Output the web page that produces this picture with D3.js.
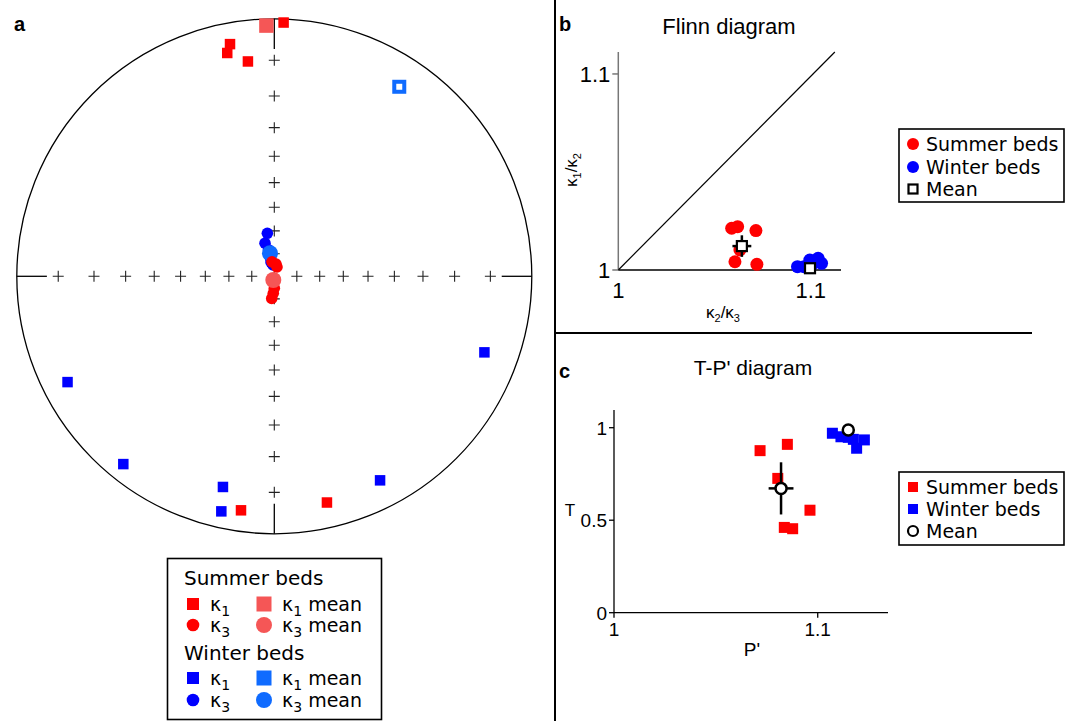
<!DOCTYPE html>
<html>
<head>
<meta charset="utf-8">
<script src="https://cdn.jsdelivr.net/npm/d3@7"></script>
<style>
  body { margin: 0; background: #fff; }
  svg { display: block; }
  .dv { font-family: "DejaVu Sans", sans-serif; }
  .ar { font-family: "Liberation Sans", Arial, sans-serif; }
</style>
</head>
<body>
<svg id="fig"></svg>
<script>
// ---- panel a: stereonet, [trend, plunge] in degrees ----
var summerK1 = [[349.2, 4.9], [348.1, 6.9], [353.0, 9.9], [2.1, 0.8], [188.1, 4.9], [166.9, 5.9]];
var summerK3 = [[350.9, 83.5], [7.9, 84.5], [16.2, 85.7], [180, 84.7], [183.4, 82.4], [186.7, 80.1]];
var winterK1 = [[242.9, 5.9], [218.8, 3.8], [193.7, 9.8], [192.7, 3.8], [152.6, 6.5], [109.9, 8.1]];
var winterK3 = [[350.8, 70.8], [344.3, 74.8], [347.6, 78.0], [348.3, 81.7], [347.0, 83.5], [353.4, 84.9]];
var summerK1Mean = [358.2, 1.5];
var summerK3Mean = [195.0, 88.3];
var winterK1Mean = [33.4, 7.2];
var winterK3Mean = [349.4, 79.6];
var gridAngles = [0, 10, 20, 30, 40, 50, 60, 70, 80];

// ---- panel b: Flinn diagram [k2/k3, k1/k2] ----
var flinnSummer = [[1.0589, 1.0213], [1.0620, 1.0221], [1.0715, 1.0201], [1.0606, 1.0042], [1.0720, 1.0029], [1.0632, 1.0102]];
var flinnWinter = [[1.0931, 1.0017], [1.0965, 1.0017], [1.0995, 1.0051], [1.1038, 1.0060], [1.1056, 1.0034], [1.1005, 1.0026]];
var flinnMeans = [{x: 1.0642, y: 1.0122, ex: 0.0049, ey: 0.0055}, {x: 1.0996, y: 1.0009, ex: 0, ey: 0}];
var flinnTicks = [1, 1.1];

// ---- panel c: T-P' diagram [P', T] ----
var tpSummer = [[1.0717, 0.876], [1.0851, 0.910], [1.0804, 0.726], [1.0962, 0.554], [1.0836, 0.461], [1.0877, 0.454]];
var tpWinter = [[1.1072, 0.970], [1.1114, 0.951], [1.1150, 0.948], [1.1175, 0.937], [1.1229, 0.934], [1.1191, 0.889]];
var tpMeans = [{x: 1.0820, y: 0.672, ex: 0.0061, ey: 0.141}, {x: 1.1150, y: 0.988, ex: 0, ey: 0}];
var tpTicksX = [1, 1.1];
var tpTicksY = [0, 0.5, 1];

var RED = '#ff0000', BLUE = '#0000ff', RED_M = '#f55656', BLUE_M = '#0f6bff';

var svg = d3.select('#fig').attr('width', 1075).attr('height', 721);

// dividers
svg.append('line').attr('x1', 555).attr('x2', 555).attr('y1', 0).attr('y2', 721)
   .attr('stroke', '#000').attr('stroke-width', 2);
svg.append('line').attr('x1', 555).attr('x2', 1032).attr('y1', 333).attr('y2', 333)
   .attr('stroke', '#000').attr('stroke-width', 2);

// panel letters
[['a', 14, 31], ['b', 559, 31], ['c', 559, 378]].forEach(function (p) {
  svg.append('text').attr('class', 'ar').attr('x', p[1]).attr('y', p[2])
     .attr('font-size', 20).attr('font-weight', 'bold').text(p[0]);
});

// ================= panel a =================
var cx = 274.3, cy = 276.3, R = 257.5;
var sx = d3.scaleLinear().domain([-1, 1]).range([cx - R, cx + R]);
var sy = d3.scaleLinear().domain([-1, 1]).range([cy + R, cy - R]);
var rad = Math.PI / 180;
function proj(d) {
  var r = Math.tan((90 - d[1]) / 2 * rad);
  return [sx(r * Math.sin(d[0] * rad)), sy(r * Math.cos(d[0] * rad))];
}

var net = svg.append('g').attr('id', 'stereonet');
net.append('circle').attr('cx', sx(0)).attr('cy', sy(0)).attr('r', sx(1) - sx(0))
   .attr('fill', 'none').attr('stroke', '#000').attr('stroke-width', 1.3);

// edge ticks at N, E, S, W
[0, 90, 180, 270].forEach(function (t) {
  var a = proj([t, 0]), b = proj([t, 7.1]);
  net.append('line').attr('x1', a[0]).attr('y1', a[1]).attr('x2', b[0]).attr('y2', b[1])
     .attr('stroke', '#000').attr('stroke-width', 1.3);
});

// grid crosses along the axes
var crossPts = [];
[0, 90, 180, 270].forEach(function (t) {
  gridAngles.forEach(function (g) { if (g > 0 || t === 0) crossPts.push([t, 90 - g]); });
});
var arm = 5.5;
net.selectAll('.cross').data(crossPts).enter().append('path').classed('cross', true)
   .attr('d', function (d) {
     var p = proj(d);
     return 'M' + (p[0] - arm) + ',' + p[1] + 'H' + (p[0] + arm) + 'M' + p[0] + ',' + (p[1] - arm) + 'V' + (p[1] + arm);
   })
   .attr('stroke', '#222').attr('stroke-width', 1.1).attr('fill', 'none');

function squares(g, data, size, color) {
  g.selectAll(null).data(data).enter().append('rect')
   .attr('x', function (d) { return proj(d)[0] - size / 2; })
   .attr('y', function (d) { return proj(d)[1] - size / 2; })
   .attr('width', size).attr('height', size).attr('fill', color);
}
function dots(g, data, r, color) {
  g.selectAll(null).data(data).enter().append('circle')
   .attr('cx', function (d) { return proj(d)[0]; })
   .attr('cy', function (d) { return proj(d)[1]; })
   .attr('r', r).attr('fill', color);
}

squares(net, summerK1, 10.5, RED);
squares(net, winterK1, 10.5, BLUE);
dots(net, winterK3, 5.8, BLUE);
dots(net, [winterK3Mean], 8, BLUE_M);
dots(net, summerK3, 5.8, RED);
dots(net, [summerK3Mean], 8, RED_M);
squares(net, [summerK1Mean], 14.5, RED_M);
// winter k1 mean: blue outlined square
(function () {
  var p = proj(winterK1Mean);
  net.append('rect').attr('x', p[0] - 5).attr('y', p[1] - 5).attr('width', 10).attr('height', 10)
     .attr('fill', '#fff').attr('stroke', BLUE_M).attr('stroke-width', 4);
})();

// legend a
var la = svg.append('g').attr('class', 'dv');
la.append('rect').attr('x', 167.5).attr('y', 558.5).attr('width', 214).attr('height', 161)
  .attr('fill', '#fff').attr('stroke', '#000').attr('stroke-width', 1.6);
function kLabel(g, x, y, sub, extra) {
  var t = g.append('text').attr('x', x).attr('y', y).attr('font-size', 19);
  t.append('tspan').text('κ');
  t.append('tspan').attr('font-size', 14).attr('dy', 5).text(sub);
  if (extra) t.append('tspan').attr('dy', -5).text(' ' + extra);
}
var legRows = [
  {head: 'Summer beds', y: 585},
  {y: 604, sym: 'sq', c: RED, sub: '1', mc: RED_M},
  {y: 625, sym: 'ci', c: RED, sub: '3', mc: RED_M},
  {head: 'Winter beds', y: 660},
  {y: 678, sym: 'sq', c: BLUE, sub: '1', mc: BLUE_M},
  {y: 700, sym: 'ci', c: BLUE, sub: '3', mc: BLUE_M}
];
legRows.forEach(function (r) {
  if (r.head) {
    la.append('text').attr('x', 184).attr('y', r.y).attr('font-size', 20).text(r.head);
    return;
  }
  if (r.sym === 'sq') {
    la.append('rect').attr('x', 187).attr('y', r.y - 6).attr('width', 12).attr('height', 12).attr('fill', r.c);
    la.append('rect').attr('x', 256.5).attr('y', r.y - 7.5).attr('width', 15).attr('height', 15).attr('fill', r.mc);
  } else {
    la.append('circle').attr('cx', 193).attr('cy', r.y).attr('r', 6.3).attr('fill', r.c);
    la.append('circle').attr('cx', 264).attr('cy', r.y).attr('r', 8).attr('fill', r.mc);
  }
  kLabel(la, 210, r.y + 7, r.sub);
  kLabel(la, 282, r.y + 7, r.sub, 'mean');
});

// ================= panel b =================
var bx = d3.scaleLinear().domain([1, 1.1157]).range([618.3, 841]);
var by = d3.scaleLinear().domain([1, 1.1112]).range([270, 52]);
var gb = svg.append('g').attr('id', 'flinn');

gb.append('text').attr('class', 'ar').attr('x', 729).attr('y', 34).attr('text-anchor', 'middle')
  .attr('font-size', 22).text('Flinn diagram');

gb.append('line').attr('x1', bx(1)).attr('x2', bx(1)).attr('y1', by(1)).attr('y2', by(1.1112))
  .attr('stroke', '#777').attr('stroke-width', 1.5);
gb.append('line').attr('x1', bx(1)).attr('x2', bx(1.1157)).attr('y1', by(1)).attr('y2', by(1))
  .attr('stroke', '#000').attr('stroke-width', 1.3);
gb.append('line').attr('x1', bx(1)).attr('y1', by(1)).attr('x2', bx(1.1125)).attr('y2', by(1.1112))
  .attr('stroke', '#000').attr('stroke-width', 1.2);

flinnTicks.forEach(function (t) {
  gb.append('line').attr('x1', bx(1) - 6).attr('x2', bx(1)).attr('y1', by(t)).attr('y2', by(t))
    .attr('stroke', '#777').attr('stroke-width', 1.5);
  gb.append('text').attr('class', 'ar').attr('x', bx(1) - 8).attr('y', by(t) + 8)
    .attr('text-anchor', 'end').attr('font-size', 22).text(t);
  gb.append('text').attr('class', 'ar').attr('x', bx(t)).attr('y', 298)
    .attr('text-anchor', 'middle').attr('font-size', 22).text(t);
});

var xl = gb.append('text').attr('class', 'ar').attr('x', 723).attr('y', 318).attr('text-anchor', 'middle').attr('font-size', 17);
xl.append('tspan').text('κ'); xl.append('tspan').attr('font-size', 11).attr('dy', 4).text('2');
xl.append('tspan').attr('dy', -4).text('/κ'); xl.append('tspan').attr('font-size', 11).attr('dy', 4).text('3');
var yl = gb.append('text').attr('class', 'ar').attr('transform', 'translate(577,170) rotate(-90)')
  .attr('text-anchor', 'middle').attr('font-size', 17);
yl.append('tspan').text('κ'); yl.append('tspan').attr('font-size', 11).attr('dy', 4).text('1');
yl.append('tspan').attr('dy', -4).text('/κ'); yl.append('tspan').attr('font-size', 11).attr('dy', 4).text('2');

gb.selectAll('.ps').data(flinnSummer).enter().append('circle').classed('ps', true)
  .attr('cx', function (d) { return bx(d[0]); }).attr('cy', function (d) { return by(d[1]); })
  .attr('r', 6.5).attr('fill', RED);
gb.selectAll('.pw').data(flinnWinter).enter().append('circle').classed('pw', true)
  .attr('cx', function (d) { return bx(d[0]); }).attr('cy', function (d) { return by(d[1]); })
  .attr('r', 6.5).attr('fill', BLUE);
flinnMeans.forEach(function (m) {
  if (m.ex > 0) {
    gb.append('line').attr('x1', bx(m.x - m.ex)).attr('x2', bx(m.x + m.ex)).attr('y1', by(m.y)).attr('y2', by(m.y))
      .attr('stroke', '#000').attr('stroke-width', 2.5);
    gb.append('line').attr('x1', bx(m.x)).attr('x2', bx(m.x)).attr('y1', by(m.y - m.ey)).attr('y2', by(m.y + m.ey))
      .attr('stroke', '#000').attr('stroke-width', 2.5);
  }
  gb.append('rect').attr('x', bx(m.x) - 5).attr('y', by(m.y) - 5).attr('width', 10).attr('height', 10)
    .attr('fill', '#fff').attr('stroke', '#000').attr('stroke-width', 2.2);
});

// legend b
var lb = svg.append('g').attr('class', 'dv');
lb.append('rect').attr('x', 899).attr('y', 129).attr('width', 165).attr('height', 73)
  .attr('fill', '#fff').attr('stroke', '#000').attr('stroke-width', 1.6);
lb.append('circle').attr('cx', 913).attr('cy', 144).attr('r', 6).attr('fill', RED);
lb.append('circle').attr('cx', 913).attr('cy', 167).attr('r', 6).attr('fill', BLUE);
lb.append('rect').attr('x', 908.5).attr('y', 184.5).attr('width', 9).attr('height', 9)
  .attr('fill', '#fff').attr('stroke', '#000').attr('stroke-width', 2.2);
[['Summer beds', 151], ['Winter beds', 174], ['Mean', 196]].forEach(function (t) {
  lb.append('text').attr('x', 926).attr('y', t[1]).attr('font-size', 19).text(t[0]);
});

// ================= panel c =================
var qx = d3.scaleLinear().domain([1, 1.1345]).range([614, 888]);
var qy = d3.scaleLinear().domain([0, 1.0957]).range([612.7, 410]);
var gc = svg.append('g').attr('id', 'tp');

gc.append('text').attr('class', 'ar').attr('x', 753).attr('y', 375).attr('text-anchor', 'middle')
  .attr('font-size', 21).text("T-P' diagram");

gc.append('line').attr('x1', qx(1)).attr('x2', qx(1)).attr('y1', qy(0)).attr('y2', qy(1.0957))
  .attr('stroke', '#000').attr('stroke-width', 1.3);
gc.append('line').attr('x1', qx(1)).attr('x2', qx(1.1345)).attr('y1', qy(0)).attr('y2', qy(0))
  .attr('stroke', '#000').attr('stroke-width', 1.3);
tpTicksY.forEach(function (t) {
  gc.append('line').attr('x1', qx(1) - 5).attr('x2', qx(1)).attr('y1', qy(t)).attr('y2', qy(t))
    .attr('stroke', '#000').attr('stroke-width', 1.3);
  gc.append('text').attr('class', 'ar').attr('x', qx(1) - 7).attr('y', qy(t) + 7)
    .attr('text-anchor', 'end').attr('font-size', 19).text(t);
});
tpTicksX.forEach(function (t) {
  gc.append('line').attr('x1', qx(t)).attr('x2', qx(t)).attr('y1', qy(0)).attr('y2', qy(0) + 5)
    .attr('stroke', '#000').attr('stroke-width', 1.3);
  gc.append('text').attr('class', 'ar').attr('x', qx(t)).attr('y', 636)
    .attr('text-anchor', 'middle').attr('font-size', 19).text(t);
});
gc.append('text').attr('class', 'ar').attr('x', 570).attr('y', 516).attr('text-anchor', 'middle')
  .attr('font-size', 17).text('T');
gc.append('text').attr('class', 'ar').attr('x', 752).attr('y', 656).attr('text-anchor', 'middle')
  .attr('font-size', 19).text("P'");

gc.selectAll('.qs').data(tpSummer).enter().append('rect').classed('qs', true)
  .attr('x', function (d) { return qx(d[0]) - 5.5; }).attr('y', function (d) { return qy(d[1]) - 5.5; })
  .attr('width', 11).attr('height', 11).attr('fill', RED);
gc.selectAll('.qw').data(tpWinter).enter().append('rect').classed('qw', true)
  .attr('x', function (d) { return qx(d[0]) - 5.5; }).attr('y', function (d) { return qy(d[1]) - 5.5; })
  .attr('width', 11).attr('height', 11).attr('fill', BLUE);
tpMeans.forEach(function (m) {
  if (m.ex > 0) {
    gc.append('line').attr('x1', qx(m.x - m.ex)).attr('x2', qx(m.x + m.ex)).attr('y1', qy(m.y)).attr('y2', qy(m.y))
      .attr('stroke', '#000').attr('stroke-width', 2.5);
    gc.append('line').attr('x1', qx(m.x)).attr('x2', qx(m.x)).attr('y1', qy(m.y - m.ey)).attr('y2', qy(m.y + m.ey))
      .attr('stroke', '#000').attr('stroke-width', 2.5);
  }
  gc.append('circle').attr('cx', qx(m.x)).attr('cy', qy(m.y)).attr('r', 5.5)
    .attr('fill', '#fff').attr('stroke', '#000').attr('stroke-width', 2.5);
});

// legend c
var lc = svg.append('g').attr('class', 'dv');
lc.append('rect').attr('x', 899).attr('y', 472).attr('width', 165).attr('height', 73)
  .attr('fill', '#fff').attr('stroke', '#000').attr('stroke-width', 1.6);
lc.append('rect').attr('x', 908).attr('y', 482).attr('width', 10).attr('height', 10).attr('fill', RED);
lc.append('rect').attr('x', 908).attr('y', 504).attr('width', 10).attr('height', 10).attr('fill', BLUE);
lc.append('circle').attr('cx', 913).attr('cy', 531).attr('r', 5).attr('fill', '#fff')
  .attr('stroke', '#000').attr('stroke-width', 2.2);
[['Summer beds', 494], ['Winter beds', 516], ['Mean', 538]].forEach(function (t) {
  lc.append('text').attr('x', 926).attr('y', t[1]).attr('font-size', 19).text(t[0]);
});
</script>
</body>
</html>
